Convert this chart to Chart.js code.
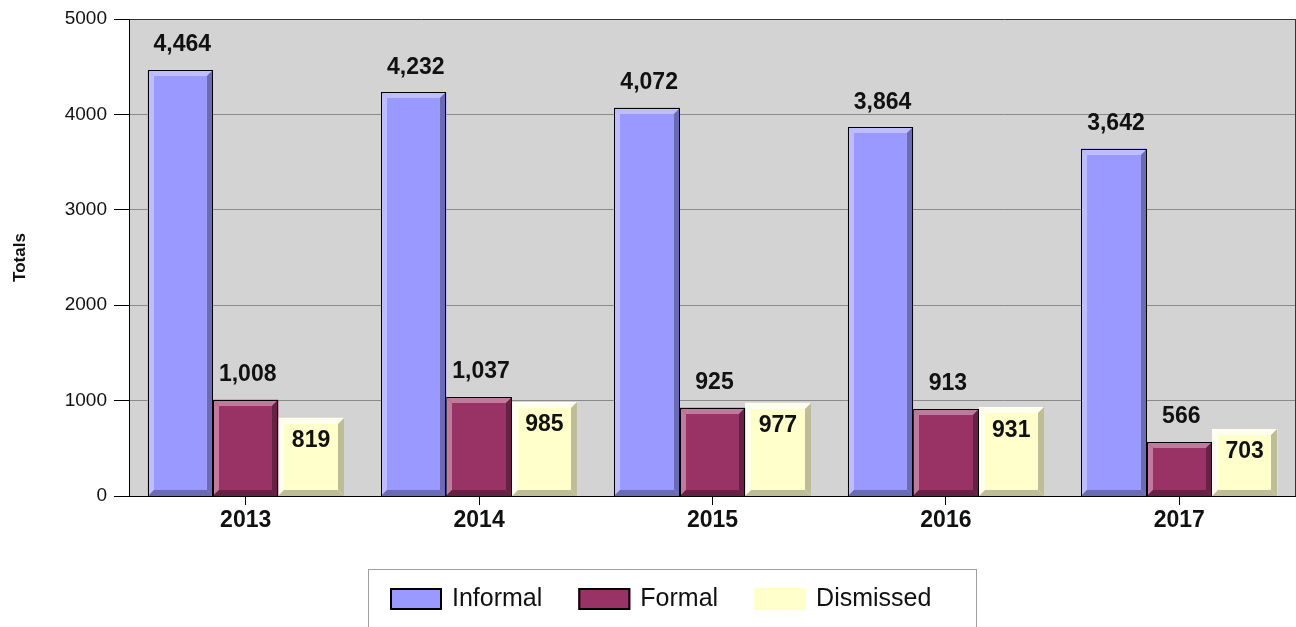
<!DOCTYPE html>
<html>
<head>
<meta charset="utf-8">
<script src="https://cdn.jsdelivr.net/npm/chart.js@4.4.0/dist/chart.umd.min.js"></script>
<style>
  html, body { margin: 0; padding: 0; background: #fff; }
  #wrap { width: 1296px; height: 627px; }
</style>
</head>
<body>
<div id="wrap"><canvas id="chart"></canvas></div>
<script>
const years = ['2013', '2014', '2015', '2016', '2017'];
const informal = [4464, 4232, 4072, 3864, 3642];
const formal = [1008, 1037, 925, 913, 566];
const dismissed = [819, 985, 977, 931, 703];
const yTicks = [0, 1000, 2000, 3000, 4000, 5000];

const seriesNames = ['Informal', 'Formal', 'Dismissed'];
const faceColors = ['#9999ff', '#993366', '#ffffcc'];
const lightColors = ['#bdbdff', '#c07a9c', '#fffff0'];
const darkColors = ['#6b6bb3', '#662244', '#bdbd98'];
const outlineColors = ['#000000', '#000000', null];

const FONT = '"Liberation Sans", Arial, sans-serif';

// grey plot area with a frame on top/right
const plotBackground = {
  id: 'plotBackground',
  beforeDraw(chart) {
    const { ctx, chartArea: a } = chart;
    ctx.save();
    ctx.fillStyle = '#d3d3d3';
    ctx.fillRect(a.left, a.top, a.right - a.left, a.bottom - a.top);
    ctx.restore();
  },
  afterDraw(chart) {
    const { ctx, chartArea: a } = chart;
    ctx.save();
    ctx.strokeStyle = '#333';
    ctx.lineWidth = 1;
    ctx.beginPath();
    ctx.moveTo(Math.round(a.right) - 0.5, a.top);
    ctx.lineTo(Math.round(a.right) - 0.5, a.bottom);
    ctx.stroke();
    ctx.restore();
  }
};

function poly(ctx, pts, color) {
  ctx.fillStyle = color;
  ctx.beginPath();
  ctx.moveTo(pts[0][0], pts[0][1]);
  for (let i = 1; i < pts.length; i++) ctx.lineTo(pts[i][0], pts[i][1]);
  ctx.closePath();
  ctx.fill();
}

// bevelled "3D" look on every bar
const bevelBars = {
  id: 'bevelBars',
  afterDatasetDraw(chart, args) {
    const ctx = chart.ctx;
    const i = args.index;
    const meta = args.meta;
    ctx.save();
    meta.data.forEach(bar => {
      const p = bar.getProps(['x', 'y', 'base', 'width'], true);
      const L = Math.round(p.x - p.width / 2);
      const R = Math.round(p.x + p.width / 2);
      const T = Math.round(p.y);
      const B = Math.round(p.base);
      const d = 6;
      poly(ctx, [[L, T], [R, T], [R - d, T + d], [L + d, T + d]], lightColors[i]);
      poly(ctx, [[L, T], [L + d, T + d], [L + d, B - d], [L, B]], lightColors[i]);
      poly(ctx, [[R, T], [R, B], [R - d, B - d], [R - d, T + d]], darkColors[i]);
      poly(ctx, [[L, B], [R, B], [R - d, B - d], [L + d, B - d]], darkColors[i]);
      if (outlineColors[i]) {
        ctx.strokeStyle = outlineColors[i];
        ctx.lineWidth = 1;
        ctx.strokeRect(L + 0.5, T + 0.5, R - L - 1, B - T);
      }
    });
    ctx.restore();
  }
};

// value labels: above the first two series, inside the third
const valueLabels = {
  id: 'valueLabels',
  afterDatasetsDraw(chart) {
    const ctx = chart.ctx;
    ctx.save();
    ctx.font = 'bold 23px ' + FONT;
    ctx.fillStyle = '#111';
    ctx.textAlign = 'center';
    ctx.textBaseline = 'middle';
    chart.data.datasets.forEach((ds, i) => {
      chart.getDatasetMeta(i).data.forEach((bar, j) => {
        const text = ds.data[j].toLocaleString('en-US');
        const y = i === 2 ? bar.y + 23 : bar.y - 25;
        ctx.fillText(text, bar.x + (i === 2 ? 0 : 2), y);
      });
    });
    ctx.restore();
  }
};

// boxed legend under the chart
const boxLegend = {
  id: 'boxLegend',
  afterDraw(chart) {
    const ctx = chart.ctx;
    ctx.save();
    ctx.strokeStyle = '#a0a0a0';
    ctx.lineWidth = 1;
    ctx.strokeRect(368.5, 569.5, 608, 80);
    ctx.font = '25px ' + FONT;
    ctx.textBaseline = 'middle';
    let x = 390;
    seriesNames.forEach((name, i) => {
      ctx.fillStyle = faceColors[i];
      ctx.fillRect(x, 588, 52, 22);
      if (outlineColors[i]) {
        ctx.strokeStyle = '#000';
        ctx.lineWidth = 2;
        ctx.strokeRect(x + 1, 589, 50, 20);
      }
      ctx.fillStyle = '#111';
      ctx.fillText(name, x + 62, 599);
      x += 62 + ctx.measureText(name).width + 36;
    });
    ctx.restore();
  }
};

const ctx = document.getElementById('chart').getContext('2d');
new Chart(ctx, {
  type: 'bar',
  data: {
    labels: years,
    datasets: [
      { label: seriesNames[0], data: informal, backgroundColor: faceColors[0], borderWidth: 0 },
      { label: seriesNames[1], data: formal, backgroundColor: faceColors[1], borderWidth: 0 },
      { label: seriesNames[2], data: dismissed, backgroundColor: faceColors[2], borderWidth: 0 }
    ]
  },
  options: {
    responsive: true,
    maintainAspectRatio: false,
    animation: false,
    datasets: { bar: { categoryPercentage: 0.84, barPercentage: 1.0 } },
    layout: { padding: { top: 19, left: 0, right: 0, bottom: 0 } },
    plugins: {
      legend: { display: false },
      tooltip: { enabled: false }
    },
    scales: {
      x: {
        afterFit(scale) { scale.height = 131; },
        grid: {
          display: true,
          drawOnChartArea: false,
          offset: false,
          tickLength: 9,
          color: '#000',
          tickColor: '#000'
        },
        border: { color: '#000', width: 1 },
        ticks: {
          color: '#111',
          padding: 2,
          font: { family: FONT, size: 23, weight: 'bold' }
        }
      },
      y: {
        min: 0,
        max: 5000,
        afterFit(scale) { scale.width = 129; },
        afterBuildTicks(scale) { scale.ticks = yTicks.map(v => ({ value: v })); },
        grid: {
          color: c => (c.tick && c.tick.value === 5000 ? '#333' : '#8a8a8a'),
          tickColor: '#000',
          tickLength: 15
        },
        border: { color: '#000', width: 1 },
        ticks: {
          color: '#111',
          padding: 7,
          font: { family: FONT, size: 19 },
          callback: v => String(v)
        },
        title: {
          display: true,
          text: 'Totals',
          color: '#111',
          padding: { top: 10, bottom: 0 },
          font: { family: FONT, size: 17, weight: 'bold' }
        }
      }
    }
  },
  plugins: [plotBackground, bevelBars, valueLabels, boxLegend]
});
</script>
</body>
</html>
